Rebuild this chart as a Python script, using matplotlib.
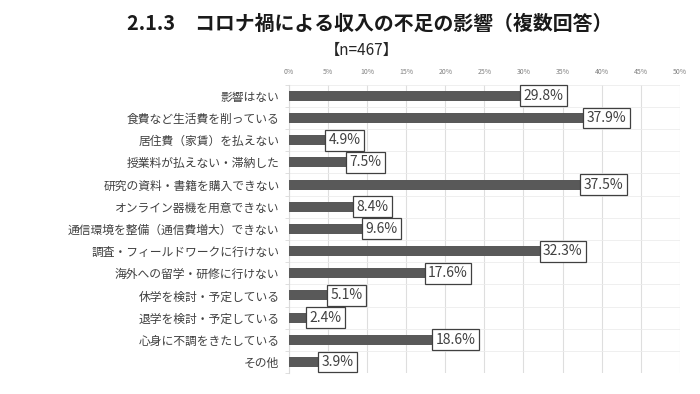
import numpy as np
import matplotlib
matplotlib.use("Agg")
from matplotlib import pyplot as plt
from matplotlib.ticker import MultipleLocator, PercentFormatter

plt.rcParams['font.family'] = ['Noto Sans CJK JP', 'DejaVu Sans']

categories = [
    '影響はない',
    '食費など生活費を削っている',
    '居住費（家賃）を払えない',
    '授業料が払えない・滞納した',
    '研究の資料・書籍を購入できない',
    'オンライン器機を用意できない',
    '通信環境を整備（通信費増大）できない',
    '調査・フィールドワークに行けない',
    '海外への留学・研修に行けない',
    '休学を検討・予定している',
    '退学を検討・予定している',
    '心身に不調をきたしている',
    'その他',
]
values = [29.8, 37.9, 4.9, 7.5, 37.5, 8.4, 9.6, 32.3, 17.6, 5.1, 2.4, 18.6, 3.9]

fig = plt.figure(figsize=(7, 3.94), dpi=100)
ax = fig.add_axes([0.413, 0.053, 0.558, 0.732])

y = np.arange(len(categories))
ax.barh(y, values, height=0.45, color='#595959', zorder=3)

for yi, v in zip(y, values):
    ax.text(v + 0.2, yi, f'{v:.1f}%', va='center', ha='left', fontsize=10,
            color='#404040', zorder=4,
            bbox=dict(boxstyle='square,pad=0.25', fc='white', ec='#404040', lw=0.9))

ax.set_xlim(0, 50)
ax.set_ylim(len(categories) - 0.5, -0.5)
ax.xaxis.set_major_locator(MultipleLocator(5))
ax.xaxis.set_major_formatter(PercentFormatter(decimals=0))
ax.xaxis.tick_top()
ax.tick_params(axis='x', length=0, labelsize=5, labelcolor='#808080', pad=6)
ax.set_yticks(y)
ax.set_yticklabels(categories, fontsize=8.5, color='#404040')
ax.set_yticks(np.arange(len(categories) + 1) - 0.5, minor=True)
ax.tick_params(axis='y', which='major', length=0, pad=7)
ax.tick_params(axis='y', which='minor', length=3, color='#d9d9d9')
ax.grid(axis='x', color='#dedede', lw=0.8, zorder=0)
ax.grid(axis='y', which='minor', color='#ececec', lw=0.6, zorder=0)
for s in ['top', 'right', 'bottom']:
    ax.spines[s].set_visible(False)
ax.spines['left'].set_color('#d9d9d9')

fig.text(0.528, 0.94, '2.1.3　コロナ禍による収入の不足の影響（複数回答）', ha='center', va='center',
         fontsize=14.3, fontweight='bold', color='#1a1a1a')
fig.text(0.517, 0.872, '【n=467】', ha='center', va='center', fontsize=11, color='#262626')

fig.savefig('out.png', dpi=100)
